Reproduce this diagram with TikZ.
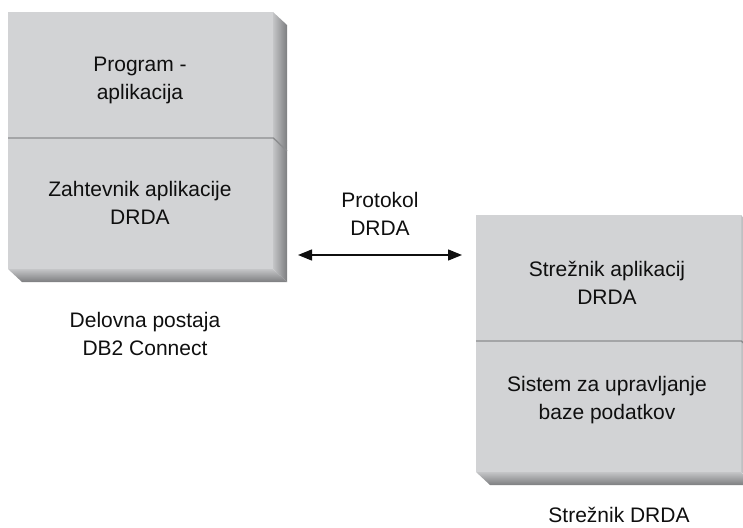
\documentclass[tikz,border=0pt]{standalone}
\usepackage{fontspec}
\setmainfont{Liberation Sans}
\usetikzlibrary{arrows.meta}
\definecolor{face}{RGB}{210,211,213}
\definecolor{bevlight}{RGB}{196,197,199}
\definecolor{bevdark}{RGB}{125,126,128}
\definecolor{divline}{RGB}{140,141,143}
\definecolor{ink}{RGB}{15,15,15}
\tikzset{
  facebox/.style={fill=face, draw=none, inner sep=0pt, minimum width=265pt, minimum height=257pt},
  lbl/.style={align=center, text=ink, font=\fontsize{21}{28}\selectfont, inner sep=0pt},
  divider/.style={draw=divline, line width=1.4pt},
  conn/.style={ink, line width=1.4pt, {Triangle[length=14pt,width=11pt]}-{Triangle[length=14pt,width=11pt]}}
}
\begin{document}
\begin{tikzpicture}[x=1pt,y=-1pt]
\useasboundingbox (0,0) rectangle (743,527);
\clip (0,0) rectangle (743,527);
% ---------- left box ----------
\shade[left color=bevlight, right color=bevdark] (273,12) -- (287,25) -- (287,282) -- (273,269) -- cycle;
\shade[top color=bevlight, bottom color=bevdark] (8,269) -- (273,269) -- (287,282) -- (22,282) -- cycle;
\node[facebox, anchor=north west] (L) at (8,12) {};
\draw[divider] (L.west |- 0,138) -- (L.east |- 0,138) -- (287,151);
\node[lbl] (lt) at (140,80) {Program -\\aplikacija};
\node[lbl] (lb) at (140,203) {Zahtevnik aplikacije\\DRDA};
\node[lbl] (lc) at (145,334) {Delovna postaja\\DB2 Connect};
% ---------- right box ----------
\shade[left color=bevlight, right color=bevdark] (741,215) -- (755,228) -- (755,485) -- (741,472) -- cycle;
\shade[top color=bevlight, bottom color=bevdark] (476,472) -- (741,472) -- (755,485) -- (490,485) -- cycle;
\node[facebox, anchor=north west] (R) at (476,215) {};
\draw[divider] (R.west |- 0,341) -- (R.east |- 0,341) -- (755,354);
\node[lbl] (rt) at (607,283) {Strežnik aplikacij\\DRDA};
\node[lbl] (rb) at (607,400) {Sistem za upravljanje\\baze podatkov};
\node[lbl] (rc) at (619,515) {Strežnik DRDA};
% ---------- connector ----------
\node[lbl] (proto) at (380,214) {Protokol\\DRDA};
\coordinate (a1) at (298,255);
\coordinate (a2) at (462,255);
\draw[conn] (a1) -- (a2);
\end{tikzpicture}
\end{document}
